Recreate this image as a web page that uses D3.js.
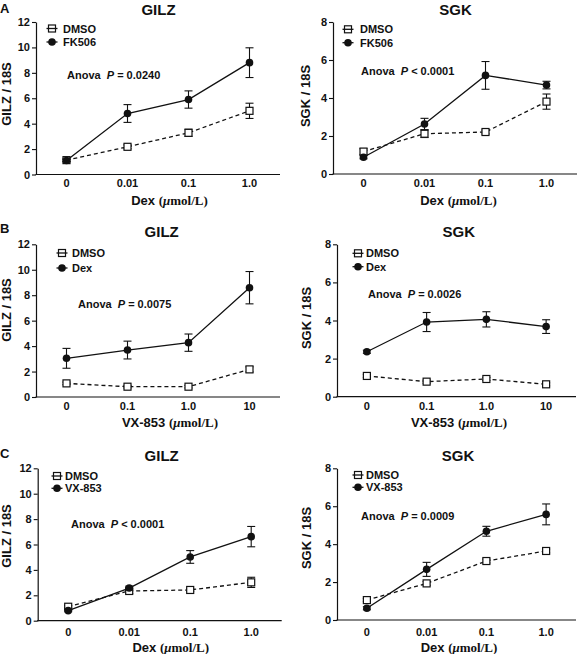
<!DOCTYPE html>
<html><head><meta charset="utf-8">
<script src="https://cdn.jsdelivr.net/npm/d3@7"></script>
<style>
body{margin:0;background:#fff}
svg{display:block}
text{font-family:"Liberation Sans",Arial,sans-serif;font-weight:bold;fill:#111}
</style>
</head><body>
<svg id="chart" width="578" height="654"></svg>
<script>
// ---------- data ----------
const dexCats = ["0", "0.01", "0.1", "1.0"];
const vxCats  = ["0", "0.1", "1.0", "10"];
const gilzTicks = [0, 2, 4, 6, 8, 10, 12];
const sgkTicks  = [0, 2, 4, 6, 8];

// Panel A (Dex dose, DMSO vs FK506)
const aGilzDMSO     = [1.13, 2.18, 3.28, 5.01];
const aGilzDMSOErr  = [0.10, 0.15, 0.28, 0.60];
const aGilzFK506    = [1.10, 4.80, 5.90, 8.80];
const aGilzFK506Err = [0.10, 0.70, 0.68, 1.17];
const aSgkDMSO      = [1.18, 2.12, 2.21, 3.81];
const aSgkDMSOErr   = [0.15, 0.20, 0.10, 0.40];
const aSgkFK506     = [0.88, 2.63, 5.19, 4.68];
const aSgkFK506Err  = [0.08, 0.30, 0.73, 0.20];

// Panel B (VX-853 dose, DMSO vs Dex)
const bGilzDMSO    = [1.07, 0.81, 0.81, 2.17];
const bGilzDMSOErr = [0.10, 0.10, 0.10, 0.20];
const bGilzDex     = [3.04, 3.69, 4.27, 8.59];
const bGilzDexErr  = [0.78, 0.70, 0.68, 1.27];
const bSgkDMSO     = [1.09, 0.79, 0.93, 0.65];
const bSgkDMSOErr  = [0.08, 0.08, 0.08, 0.08];
const bSgkDex      = [2.36, 3.92, 4.06, 3.68];
const bSgkDexErr   = [0.08, 0.50, 0.40, 0.36];

// Panel C (Dex dose, DMSO vs VX-853)
const cGilzDMSO    = [1.10, 2.34, 2.42, 3.02];
const cGilzDMSOErr = [0.10, 0.20, 0.10, 0.40];
const cGilzVX      = [0.79, 2.57, 5.02, 6.62];
const cGilzVXErr   = [0.08, 0.15, 0.50, 0.80];
const cSgkDMSO     = [1.05, 1.93, 3.11, 3.64];
const cSgkDMSOErr  = [0.08, 0.10, 0.10, 0.10];
const cSgkVX       = [0.62, 2.67, 4.68, 5.57];
const cSgkVXErr    = [0.08, 0.37, 0.26, 0.55];

const anovaValues = ["= 0.0240", "< 0.0001", "= 0.0075", "= 0.0026", "< 0.0001", "= 0.0009"];

// ---------- layout ----------
const panels = [
  {letter:"A", letterY:13, title:"GILZ", titleX:158.5, left:36, right:280, top:22, bottom:174.5,
   cats:dexCats, ticks:gilzTicks, ylab:"GILZ / 18S", ylabX:11, ylabY:94,
   legX:52, legTX:63, legY:[28.5, 42], names:["DMSO","FK506"],
   s0:aGilzDMSO, e0:aGilzDMSOErr, s1:aGilzFK506, e1:aGilzFK506Err,
   anovaX:67, anovaY:79, anova:anovaValues[0], tickY:187, xt:"Dex", xtCx:169.5, xtY:204.5},
  {letter:null, title:"SGK", titleX:455.5, left:333, right:577, top:22, bottom:174,
   cats:dexCats, ticks:sgkTicks, ylab:"SGK / 18S", ylabX:310, ylabY:96,
   legX:348, legTX:360, legY:[29.3, 42.7], names:["DMSO","FK506"],
   s0:aSgkDMSO, e0:aSgkDMSOErr, s1:aSgkFK506, e1:aSgkFK506Err,
   anovaX:361, anovaY:75, anova:anovaValues[1], tickY:187, xt:"Dex", xtCx:458.5, xtY:204.5},
  {letter:"B", letterY:233, title:"GILZ", titleX:161.7, left:36, right:280, top:244.3, bottom:397,
   cats:vxCats, ticks:gilzTicks, ylab:"GILZ / 18S", ylabX:11, ylabY:310,
   legX:62, legTX:72, legY:[253, 268], names:["DMSO","Dex"],
   s0:bGilzDMSO, e0:bGilzDMSOErr, s1:bGilzDex, e1:bGilzDexErr,
   anovaX:78, anovaY:308, anova:anovaValues[2], tickY:410, xt:"VX-853", xtCx:170, xtY:427},
  {letter:null, title:"SGK", titleX:458.8, left:337, right:576, top:244.3, bottom:396.7,
   cats:vxCats, ticks:sgkTicks, ylab:"SGK / 18S", ylabX:311, ylabY:318,
   legX:358, legTX:366, legY:[253.3, 266.7], names:["DMSO","Dex"],
   s0:bSgkDMSO, e0:bSgkDMSOErr, s1:bSgkDex, e1:bSgkDexErr,
   anovaX:368, anovaY:298, anova:anovaValues[3], tickY:410, xt:"VX-853", xtCx:459, xtY:427},
  {letter:"C", letterY:458, title:"GILZ", titleX:161.7, left:37.7, right:281.7, top:468.3, bottom:620.7,
   cats:dexCats, ticks:gilzTicks, ylab:"GILZ / 18S", ylabX:11, ylabY:536,
   legX:57, legTX:65, legY:[476, 488.3], names:["DMSO","VX-853"],
   s0:cGilzDMSO, e0:cGilzDMSOErr, s1:cGilzVX, e1:cGilzVXErr,
   anovaX:71, anovaY:528, anova:anovaValues[4], tickY:635.5, xt:"Dex", xtCx:170.8, xtY:652},
  {letter:null, title:"SGK", titleX:458, left:337, right:576, top:468.3, bottom:620,
   cats:dexCats, ticks:sgkTicks, ylab:"SGK / 18S", ylabX:311, ylabY:538,
   legX:358, legTX:366, legY:[475, 487.3], names:["DMSO","VX-853"],
   s0:cSgkDMSO, e0:cSgkDMSOErr, s1:cSgkVX, e1:cSgkVXErr,
   anovaX:361, anovaY:520, anova:anovaValues[5], tickY:635.5, xt:"Dex", xtCx:459, xtY:652}
];

const svg = d3.select("#chart");
const ink = "#111";
const serif = '"Liberation Serif","Times New Roman",serif';

function drawMarker(g, type, cx, cy, fill) {
  if (type === 0) {
    g.append("rect").attr("x", cx - 3.5).attr("y", cy - 3.5).attr("width", 7).attr("height", 7)
      .attr("fill", fill).attr("stroke", ink).attr("stroke-width", 1.2);
  } else {
    g.append("circle").attr("cx", cx).attr("cy", cy).attr("r", 3.8).attr("fill", ink);
  }
}

panels.forEach(p => {
  const g = svg.append("g");
  const x = d3.scalePoint().domain(p.cats).range([p.left, p.right]).padding(0.5);
  const ymax = p.ticks[p.ticks.length - 1];
  const y = d3.scaleLinear().domain([0, ymax]).range([p.bottom, p.top]);

  // y axis
  const ya = g.append("g").attr("transform", `translate(${p.left},0)`)
    .call(d3.axisLeft(y).tickValues(p.ticks).tickSize(4).tickSizeOuter(0).tickPadding(2));
  ya.select(".domain").attr("stroke", ink).attr("stroke-width", 1.2);
  ya.selectAll(".tick line").attr("stroke", ink).attr("stroke-width", 1.1);
  ya.selectAll(".tick text").attr("font-size", 11).attr("font-family", '"Liberation Sans",Arial,sans-serif')
    .attr("font-weight", "bold").attr("fill", ink);

  // x axis line (no ticks)
  g.append("line").attr("x1", p.left - 0.5).attr("x2", p.right).attr("y1", p.bottom).attr("y2", p.bottom)
    .attr("stroke", ink).attr("stroke-width", 1.2);
  g.selectAll(".xlab").data(p.cats).enter().append("text")
    .attr("x", d => x(d)).attr("y", p.tickY).attr("text-anchor", "middle").attr("font-size", 11).text(d => d);

  // titles
  g.append("text").attr("x", p.titleX).attr("y", p.top - 7).attr("text-anchor", "middle")
    .attr("font-size", 15).text(p.title);
  if (p.letter) g.append("text").attr("x", 0).attr("y", p.letterY).attr("font-size", 13).text(p.letter);

  // y label
  g.append("text").attr("transform", `translate(${p.ylabX},${p.ylabY}) rotate(-90)`)
    .attr("text-anchor", "middle").attr("font-size", 13).text(p.ylab);

  // x title
  const xt = g.append("text").attr("x", p.xtCx).attr("y", p.xtY).attr("text-anchor", "middle")
    .attr("font-size", 13);
  xt.append("tspan").text(p.xt + " ");
  xt.append("tspan").attr("font-family", serif).text("(");
  xt.append("tspan").attr("font-family", serif).attr("font-style", "italic").text("\u03bc");
  xt.append("tspan").attr("font-family", serif).text("mol/L)");

  // series
  const series = [
    {vals: p.s0, errs: p.e0, type: 0, dash: "4,3"},
    {vals: p.s1, errs: p.e1, type: 1, dash: null}
  ];
  const line = d3.line().x(d => x(d.c)).y(d => y(d.v));
  series.forEach(s => {
    const pts = p.cats.map((c, i) => ({c, v: s.vals[i], e: s.errs[i]}));
    g.append("path").datum(pts).attr("d", line).attr("fill", "none").attr("stroke", ink)
      .attr("stroke-width", 1.3).attr("stroke-dasharray", s.dash);
    pts.forEach(d => {
      const cx = x(d.c), y1 = y(d.v + d.e), y2 = y(d.v - d.e);
      g.append("line").attr("x1", cx).attr("x2", cx).attr("y1", y1).attr("y2", y2).attr("stroke", ink).attr("stroke-width", 1.1);
      [y1, y2].forEach(yy => g.append("line").attr("x1", cx - 4).attr("x2", cx + 4).attr("y1", yy).attr("y2", yy)
        .attr("stroke", ink).attr("stroke-width", 1.1));
    });
    pts.forEach(d => drawMarker(g, s.type, x(d.c), y(d.v), "#fff"));
  });

  // legend
  p.names.forEach((n, i) => {
    const ly = p.legY[i];
    g.append("line").attr("x1", p.legX - 5.5).attr("x2", p.legX + 5.5).attr("y1", ly).attr("y2", ly)
      .attr("stroke", ink).attr("stroke-width", 1.3);
    drawMarker(g, i, p.legX, ly, "none");
    g.append("text").attr("x", p.legTX).attr("y", ly + 4).attr("font-size", 11).text(n);
  });

  // anova
  const at = g.append("text").attr("x", p.anovaX).attr("y", p.anovaY).attr("font-size", 11);
  at.append("tspan").text("Anova\u00a0\u00a0");
  at.append("tspan").attr("font-style", "italic").text("P");
  at.append("tspan").text("\u00a0" + p.anova);
});
</script>
</body></html>
